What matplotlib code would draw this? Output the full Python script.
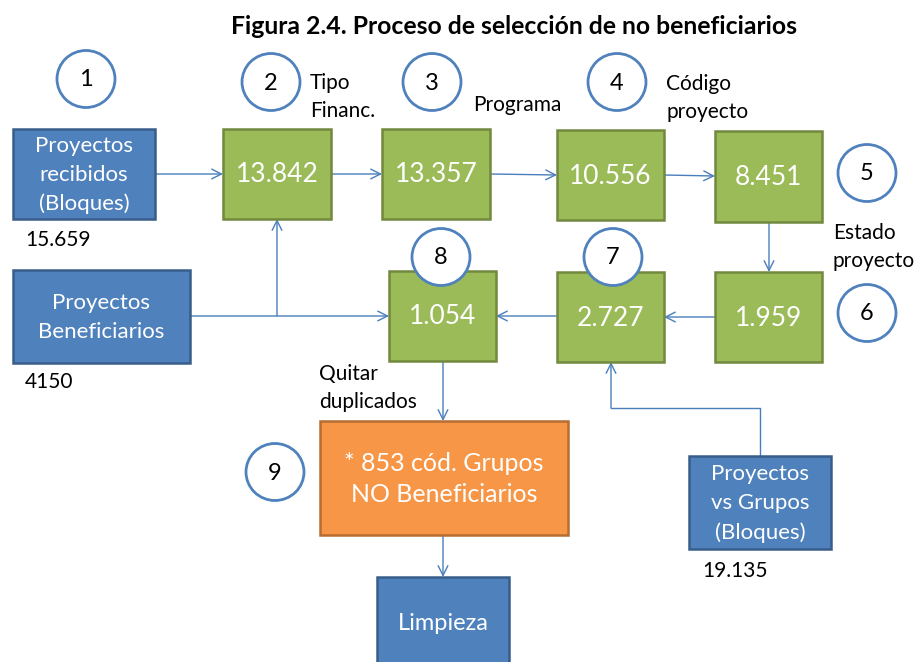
import matplotlib
matplotlib.use("Agg")
import matplotlib.pyplot as plt
from matplotlib.patches import Rectangle, Ellipse

# ---- content ----
title = "Figura 2.4. Proceso de selección de no beneficiarios"
source_labels = ["Proyectos\nrecibidos\n(Bloques)", "Proyectos\nBeneficiarios", "Proyectos\nvs Grupos\n(Bloques)", "Limpieza"]
source_counts = ["15.659", "4150", "19.135", ""]
step_values = ["13.842", "13.357", "10.556", "8.451", "1.959", "2.727", "1.054"]
result_label = "* 853 cód. Grupos\nNO Beneficiarios"
step_numbers = ["1", "2", "3", "4", "5", "6", "7", "8", "9"]
step_notes = ["Tipo\nFinanc.", "Programa", "Código\nproyecto", "Estado\nproyecto", "Quitar\nduplicados"]

# ---- layout (pixel coordinates) ----
BLUE, BLUE_E = "#4F81BD", "#385D8A"
GREEN, GREEN_E = "#9BBB59", "#71893F"
ORANGE, ORANGE_E = "#F79646", "#B66D31"
LINE = "#4A7EBB"
FONT = "Lato"

fig = plt.figure(figsize=(9.23, 6.62), dpi=100)
ax = fig.add_axes([0, 0, 1, 1])
ax.set_xlim(0, 923)
ax.set_ylim(662, 0)
ax.axis("off")

def box(x0, y0, x1, y1, fc, ec, text, size, ls=1.55):
    ax.add_patch(Rectangle((x0, y0), x1 - x0, y1 - y0, facecolor=fc, edgecolor=ec, lw=1.8, zorder=2))
    ax.text((x0 + x1) / 2, (y0 + y1) / 2 + 1, text, color="white", fontsize=size, family=FONT,
            ha="center", va="center", linespacing=ls, zorder=4)

def circle(cx, cy, t):
    ax.add_patch(Ellipse((cx, cy), 58, 57, facecolor="white", edgecolor=BLUE, lw=2.0, zorder=5))
    ax.text(cx, cy + 1, t, fontsize=17, family=FONT, ha="center", va="center", zorder=6)

def arrow(pts):
    xs = [p[0] for p in pts]
    ys = [p[1] for p in pts]
    if len(pts) > 2:
        ax.plot(xs[:-1], ys[:-1], color=LINE, lw=1.0, zorder=1)
    ax.annotate("", xy=pts[-1], xytext=pts[-2],
                arrowprops=dict(arrowstyle="->,head_length=0.7,head_width=0.35", color=LINE, lw=1.0,
                                shrinkA=0, shrinkB=0), zorder=1)

def label(x, y, t, size=15, ha="left"):
    ax.text(x, y, t, fontsize=size, family=FONT, ha=ha, va="center", linespacing=1.5)

# title
ax.text(514, 27, title, fontsize=17.8, family=FONT, fontweight="bold", ha="center", va="center")

# source boxes
box(13, 129, 155, 219, BLUE, BLUE_E, source_labels[0], 16)
box(13, 270, 190, 363, BLUE, BLUE_E, source_labels[1], 16)
box(689, 456, 831, 549, BLUE, BLUE_E, source_labels[2], 16)
box(377, 577, 509, 668, BLUE, BLUE_E, source_labels[3], 17)
label(25, 240, source_counts[0], 15)
label(25, 382, source_counts[1], 15)
label(702, 571, source_counts[2], 15)

# green steps
green_pos = [(223, 129, 331, 219), (382, 129, 490, 219), (557, 130, 664, 220), (715, 131, 822, 222),
             (715, 272, 822, 362), (557, 272, 664, 362), (389, 271, 496, 361)]
for (x0, y0, x1, y1), v in zip(green_pos, step_values):
    box(x0, y0, x1, y1, GREEN, GREEN_E, v, 19)

# orange result
box(320, 421, 568, 535, ORANGE, ORANGE_E, result_label, 18, ls=1.4)

# arrows
arrow([(155, 174), (223, 174)])
arrow([(331, 174), (382, 174)])
arrow([(490, 174), (557, 175)])
arrow([(664, 175), (715, 176)])
arrow([(769, 222), (769, 272)])
arrow([(715, 317), (664, 317)])
arrow([(557, 316), (496, 316)])
arrow([(190, 316), (389, 316)])
arrow([(277, 316), (277, 219)])
arrow([(760, 456), (760, 408), (611, 408), (611, 362)])
arrow([(443, 361), (443, 421)])
arrow([(443, 535), (443, 577)])

# numbered circles
circle_pos = [(86, 79), (271, 82), (432, 82), (617, 82), (867, 173), (867, 313), (613, 257), (441, 257), (275, 472)]
for (cx, cy), n in zip(circle_pos, step_numbers):
    circle(cx, cy, n)

# notes
label(310, 97, step_notes[0])
label(473, 105, step_notes[1])
label(666, 98, step_notes[2])
label(833, 247, step_notes[3])
label(319, 388, step_notes[4])

fig.savefig("out.png", dpi=100)
